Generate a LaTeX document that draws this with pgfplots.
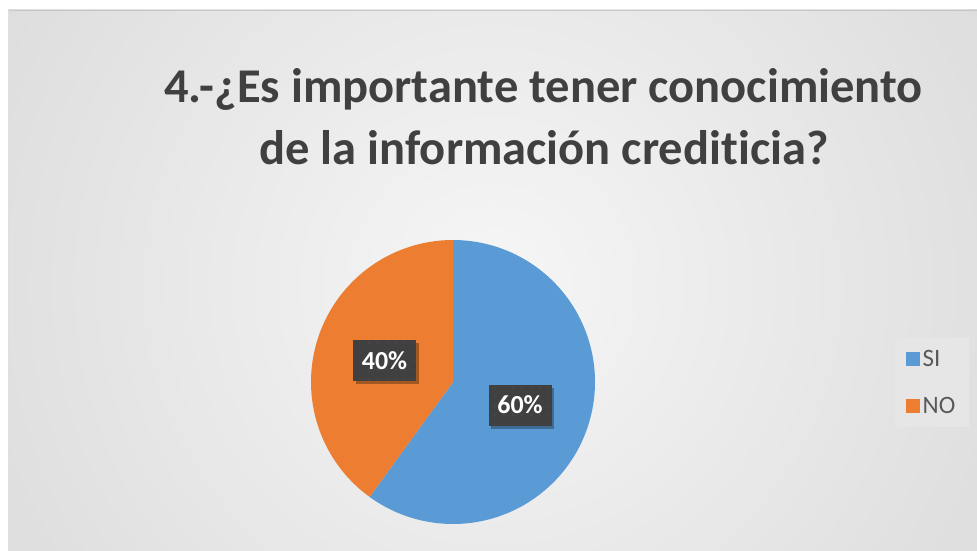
\documentclass[border=0pt]{standalone}
\usepackage{fontspec}
\setmainfont{Carlito}[Ligatures=NoCommon]
\usepackage{pgfplots}
\usepackage{pgfplotstable}
\pgfplotsset{compat=1.18}
\usetikzlibrary{shadows,patterns.meta}
\definecolor{siblue}{HTML}{5B9BD5}
\definecolor{noorange}{HTML}{ED7D31}
\definecolor{titlegray}{HTML}{404040}
\definecolor{leggray}{HTML}{595959}
\definecolor{lblgray}{HTML}{404040}
\definecolor{lbldot}{HTML}{4E4E4E}
\definecolor{bginner}{HTML}{F6F6F6}
\definecolor{bgouter}{HTML}{C4C4C4}
\definecolor{legfill}{HTML}{E6E6E6}

\pgfplotstableread{
label value
SI 60
NO 40
}\pietable
\pgfplotstablegetelem{0}{value}\of\pietable \let\vSI\pgfplotsretval
\pgfplotstablegetelem{1}{value}\of\pietable \let\vNO\pgfplotsretval
\pgfmathsetmacro\aSplit{90-3.6*\vSI}
\pgfmathsetmacro\aEnd{\aSplit-3.6*\vNO}

\tikzset{lbl/.style={fill=lblgray, text=white, font=\bfseries\fontsize{26}{26}\selectfont,
    minimum width=63pt, minimum height=41pt, inner sep=0pt,
    drop shadow={shadow xshift=2.5pt, shadow yshift=-3pt, opacity=0.3, fill=black},
    postaction={pattern={Dots[radius=0.9pt, distance=9pt]}, pattern color=lbldot}}}

\begin{document}
\begin{tikzpicture}
\useasboundingbox (0pt,0pt) rectangle (977pt,550pt);
\fill[white] (0pt,0pt) rectangle (977pt,550pt);
\begin{scope}
\clip (8pt,0pt) rectangle (977pt,540pt);
\shade[inner color=bginner, outer color=bgouter] (492pt,265pt) circle (1130pt);
\end{scope}
\draw[gray!45, line width=0.6pt] (8pt,540pt) -- (977pt,540pt);
\draw[gray!25, line width=0.6pt] (8pt,0pt) -- (8pt,540pt);
\fill[legfill] (895pt,123pt) rectangle (969pt,212pt);

\node[anchor=base, text=titlegray, font=\bfseries\fontsize{48.5}{48.5}\selectfont] at (543.5pt,447pt) {4.-¿Es importante tener conocimiento};
\node[anchor=base, text=titlegray, font=\bfseries\fontsize{48.5}{48.5}\selectfont] at (544pt,385pt) {de la información crediticia?};

\begin{axis}[
  at={(0pt,0pt)}, anchor=south west,
  width=977pt, height=550pt, scale only axis,
  xmin=0, xmax=977, ymin=0, ymax=550,
  hide axis, clip=false,
  legend style={at={(axis cs:932,167.5)}, anchor=center, draw=none, fill=none,
    font=\fontsize{25}{25}\selectfont, text=leggray, row sep=29pt,
    inner xsep=0pt, inner ysep=0pt,
    nodes={inner xsep=3pt, inner ysep=0pt}},
  legend cell align=left,
  legend image code/.code={\fill[#1] (0pt,-7pt) rectangle (14pt,7pt);},
]
\addplot[fill=siblue, draw=none, domain=\aSplit:90, samples=150, variable=\t]
  ({453+142*cos(\t)},{168+142*sin(\t)}) -- (axis cs:453,168) -- cycle;
\addlegendentry{SI}
\addplot[fill=noorange, draw=none, domain=\aEnd:\aSplit, samples=120, variable=\t]
  ({453+142*cos(\t)},{168+142*sin(\t)}) -- (axis cs:453,168) -- cycle;
\addlegendentry{NO}
\node[lbl] at (axis cs:384.5,189.5) {40\%};
\node[lbl] at (axis cs:520,145) {60\%};
\end{axis}
\end{tikzpicture}
\end{document}
